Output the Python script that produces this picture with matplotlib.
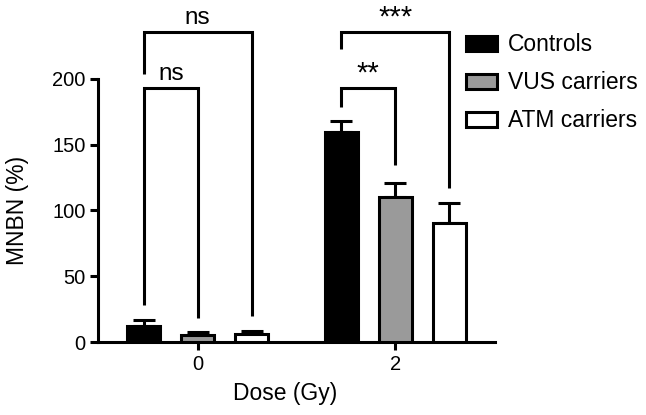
import matplotlib
matplotlib.use("Agg")
import matplotlib.pyplot as plt
import numpy as np

plt.rcParams['font.family'] = ['Liberation Sans', 'DejaVu Sans']

doses = ['0', '2']
groups = ['Controls', 'VUS carriers', 'ATM carriers']
means = {
    'Controls': [12.5, 160],
    'VUS carriers': [5, 110],
    'ATM carriers': [6, 90.5],
}
errs = {
    'Controls': [4.5, 8],
    'VUS carriers': [2.5, 11],
    'ATM carriers': [2.5, 15],
}
colors = {'Controls': 'black', 'VUS carriers': '#9a9a9a', 'ATM carriers': 'white'}

# significance brackets: (group a, group b, dose index, top, leg a, leg b, label)
brackets = [
    (0, 1, 0, 193, 28, 18, 'ns'),
    (0, 2, 0, 235.5, 204, 20, 'ns'),
    (0, 1, 1, 193, 179, 134.5, '**'),
    (0, 2, 1, 235.5, 223, 117, '***'),
]

lw = 2.2
fig = plt.figure(figsize=(6.46, 4.15), dpi=100)
ax = fig.add_axes([0.1517, 0.1759, 0.6146, 0.8241])

x = np.arange(len(doses))
offs = [-0.273, 0.0, 0.273]
width = 0.167

for g, off in zip(groups, offs):
    ax.bar(x + off, means[g], width, color=colors[g], edgecolor='black',
           linewidth=lw, label=g, zorder=3)
    ax.errorbar(x + off, means[g], yerr=[np.zeros(len(doses)), errs[g]],
                fmt='none', ecolor='black', elinewidth=lw, capsize=8,
                capthick=lw, zorder=2)

for a, b, d, top, ya, yb, lab in brackets:
    xa = x[d] + offs[a]
    xb = x[d] + offs[b]
    ax.plot([xa, xa, xb, xb], [ya, top, top, yb], color='black', lw=lw,
            clip_on=False, solid_capstyle='butt', solid_joinstyle='miter')
    if lab == 'ns':
        ax.text((xa + xb) / 2, top + 6.5, lab, ha='center', va='baseline',
                fontsize=17.5)
    else:
        ax.text((xa + xb) / 2, top + 11, lab, ha='center', va='center',
                fontsize=21)

ax.set_xlim(-0.505, 1.505)
ax.set_ylim(0, 260)
ax.set_xticks(x)
ax.set_xticklabels(doses)
ax.set_yticks([0, 50, 100, 150, 200])
ax.spines['left'].set_bounds(0, 200)
ax.spines['top'].set_visible(False)
ax.spines['right'].set_visible(False)
for s in ['left', 'bottom']:
    ax.spines[s].set_linewidth(lw)
ax.tick_params(width=lw, length=6, labelsize=14.5, pad=3)

ax.set_xlabel('Dose (Gy)', fontsize=16.5, va='center')
ax.xaxis.set_label_coords(0.471, -0.152)
ax.set_ylabel('MNBN (%)', fontsize=16.5, va='center')
ax.yaxis.set_label_coords(-0.204, 0.385)

ax.legend(loc='upper left', bbox_to_anchor=(0.721, 0.92),
          bbox_transform=fig.transFigure, frameon=False, fontsize=16.5,
          handlelength=1.35, handleheight=0.65, labelspacing=0.66,
          handletextpad=0.48, borderpad=0, borderaxespad=0)

fig.savefig('out.png', dpi=100)
